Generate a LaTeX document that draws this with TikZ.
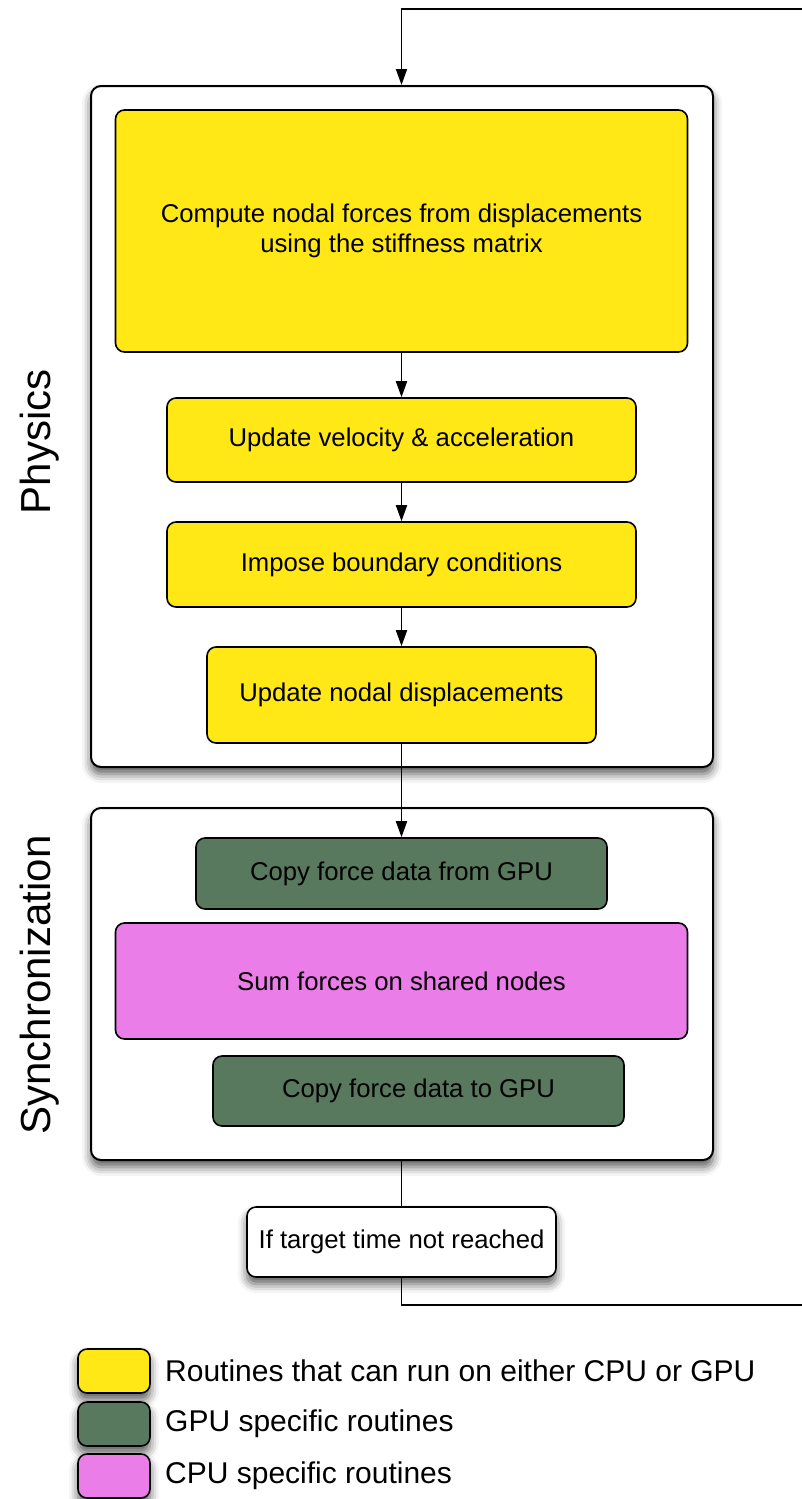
\documentclass[tikz,border=0pt]{standalone}
\usepackage{fontspec}
\setmainfont{Liberation Sans}
\usetikzlibrary{arrows.meta,shadows.blur,calc}
\definecolor{boxyellow}{RGB}{255,232,22}
\definecolor{boxgreen}{RGB}{88,121,94}
\definecolor{boxpink}{RGB}{235,125,232}
\tikzset{
  sh/.style={blur shadow={shadow xshift=0pt,shadow yshift=-7pt,shadow blur radius=9pt,shadow opacity=65}},
  group/.style={draw=black,line width=2pt,rounded corners=10pt,fill=white,sh},
  stepbox/.style={draw=black,line width=1.6pt,rounded corners=9pt,align=center,
     font=\fontsize{25.7}{29.5}\selectfont,inner sep=0pt},
  yel/.style={stepbox,fill=boxyellow},
  grn/.style={stepbox,fill=boxgreen},
  pnk/.style={stepbox,fill=boxpink},
  conn/.style={line width=1.8pt,draw=black},
  arr/.style={conn,-{Triangle[length=16pt,width=11pt]}},
  swatch/.style={draw=black,line width=1.6pt,rounded corners=9pt,minimum width=72pt,minimum height=44pt,sh},
  legtext/.style={anchor=west,inner sep=0pt,font=\fontsize{30}{34}\selectfont},
  side/.style={rotate=90,inner sep=0pt,font=\fontsize{42}{46}\selectfont}
}
\begin{document}
\begin{tikzpicture}[x=1pt,y=-1pt]
\useasboundingbox (0,0) rectangle (802,1499);
% groups
\node[group,minimum width=622pt,minimum height=681pt] (phys) at (402,426.5) {};
\node[group,minimum width=622pt,minimum height=352pt] (sync) at (402,984) {};
% physics steps
\node[yel,minimum width=572pt,minimum height=242pt] (comp) at (401.5,231) {Compute nodal forces from displacements\\using the stiffness matrix};
\node[yel,minimum width=469pt,minimum height=84pt] (vel) at (401.5,440) {Update velocity \& acceleration};
\node[yel,minimum width=469pt,minimum height=85pt] (bnd) at (401.5,564.5) {Impose boundary conditions};
\node[yel,minimum width=389pt,minimum height=96pt] (disp) at (401.5,695) {Update nodal displacements};
% sync steps
\node[grn,minimum width=411pt,minimum height=71pt] (cfrom) at (401.5,873.5) {Copy force data from GPU};
\node[pnk,minimum width=572pt,minimum height=116pt] (sum) at (401.5,981) {Sum forces on shared nodes};
\node[grn,minimum width=411pt,minimum height=70pt] (cto) at (418.5,1091) {Copy force data to GPU};
% condition
\node[stepbox,fill=white,sh,minimum width=309pt,minimum height=70pt] (cond) at (401.5,1242) {If target time not reached};
% side labels
\node[side] (lphys) at (40,442) {Physics};
\node[side] (lsync) at (40,985) {Synchronization};
% connectors
\draw[arr] (comp) -- (vel);
\draw[arr] (vel) -- (bnd);
\draw[arr] (bnd) -- (disp);
\draw[arr] (disp) -- (cfrom);
\draw[conn] (sync.south -| cond.north) -- (cond.north);
\coordinate (loopB) at (806,1305);
\coordinate (loopT) at (806,9);
\draw[arr] (cond.south) |- (loopB) -- (loopT) -| (phys.north -| cond.north);
% legend
\node[swatch,fill=boxyellow] (sw1) at (114,1371) {};
\node[swatch,fill=boxgreen] (sw2) at (114,1424) {};
\node[swatch,fill=boxpink] (sw3) at (114,1476) {};
\node[legtext] (lt1) at (165,1371) {Routines that can run on either CPU or GPU};
\node[legtext] (lt2) at (165,1424) {GPU specific routines};
\node[legtext] (lt3) at (165,1476) {CPU specific routines};
\end{tikzpicture}
\end{document}
